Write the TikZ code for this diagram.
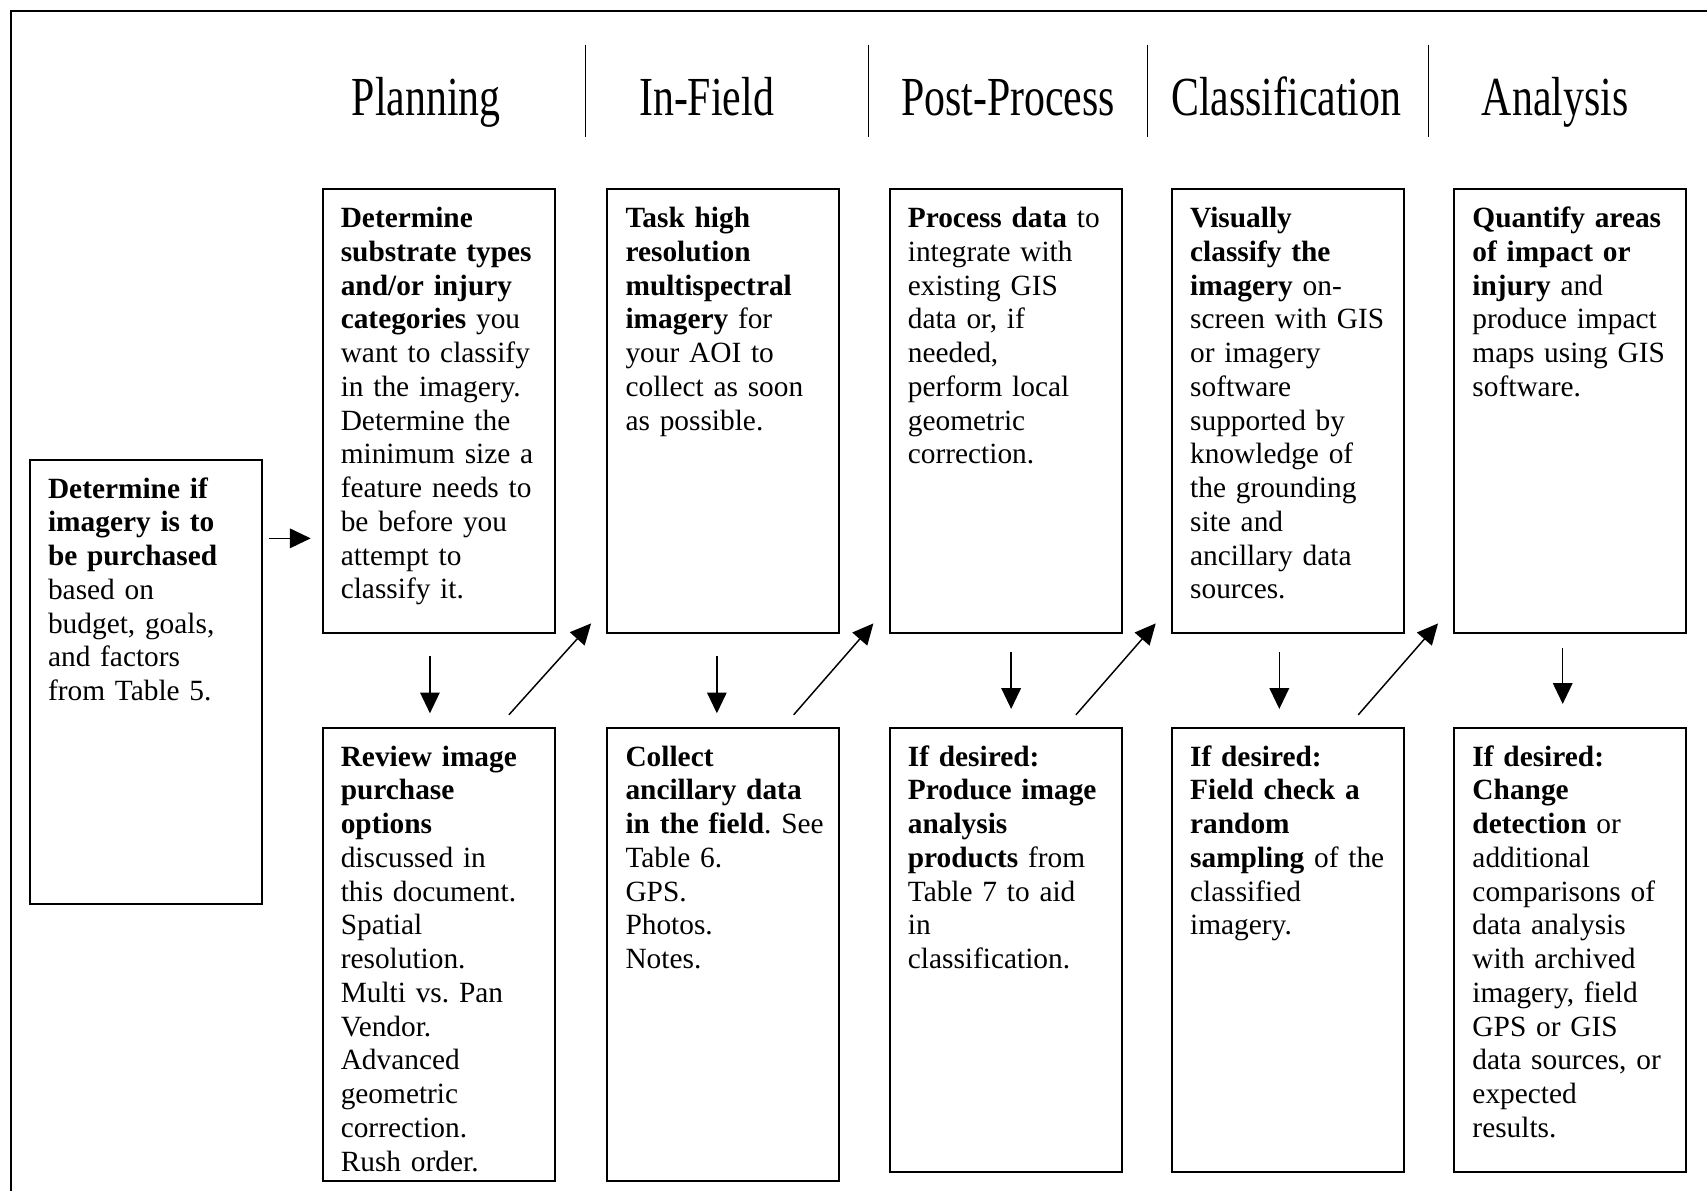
\documentclass[tikz,border=0pt]{standalone}
\usepackage{fontspec}
\setmainfont{Liberation Serif}
\usepackage{tikz}
\usetikzlibrary{arrows.meta,positioning,calc}
\frenchspacing
\newcommand\hdlabel[1]{\scalebox{0.76}[1]{#1}}
\tikzset{
  stage/.style ={rectangle, draw=black, line width=0.8pt, text width=80pt,
                 inner xsep=7.4pt, inner ysep=6.6pt, outer sep=0pt, text height=9pt,
                 text depth=159.2pt, align=left, font=\fontsize{12}{13.8}\selectfont},
  tall/.style  ={text depth=162.9pt},
  hd/.style    ={anchor=base, inner sep=0pt, font=\fontsize{22.5}{26}\selectfont},
  sep/.style   ={line width=0.5pt},
  frame/.style ={line width=0.9pt},
  ar/.style    ={-{Triangle[length=8.5pt,width=8pt]}, line width=0.6pt},
}

\begin{document}
\begin{tikzpicture}[x=0.445pt, y=0.445pt]
\useasboundingbox (0,0) rectangle (1568,-1094);
\draw[frame] (10,-1094) -- (10,-10) -- (1568,-10);

\node[hd] (hplan)  at (391.5,-106.5)  {\hdlabel{Planning}};
\node[hd] (hfield) at (649,-106.5)    {\hdlabel{In-Field}};
\node[hd] (hpost)  at (926,-106.5)    {\hdlabel{Post-Process}};
\node[hd] (hclass) at (1181.5,-106.5) {\hdlabel{Classification}};
\node[hd] (hanal)  at (1428.5,-106.5) {\hdlabel{Analysis}};
\foreach \x in {538,798,1054,1312} \draw[sep] (\x,-41) -- (\x,-125.5);

\node[stage, anchor=north west] (det) at (27.5,-422.5)
  {\textbf{Determine if\\ imagery is to\\ be purchased}\\ based on\\ budget, goals,\\
   and factors\\ from Table 5.};

\node[stage, anchor=north west] (t1) at (296.4,-174)
  {\textbf{Determine\\ substrate types\\ and/or injury\\ categories} you\\
   want to classify\\ in the imagery.\\ Determine the\\ minimum size a\\
   feature needs to\\ be before you\\ attempt to\\ classify it.};
\node[stage, right=21.6pt of t1] (t2)
  {\textbf{Task high\\ resolution\\ multispectral\\ imagery} for\\ your AOI to\\
   collect as soon\\ as possible.};
\node[stage, right=20.6pt of t2] (t3)
  {\textbf{Process data} to\\ integrate with\\ existing GIS\\ data or, if\\ needed,\\
   perform local\\ geometric\\ correction.};
\node[stage, right=20.6pt of t3] (t4)
  {\textbf{Visually\\ classify the\\ imagery} on-\\ screen with GIS\\ or imagery\\
   software\\ supported by\\ knowledge of\\ the grounding\\ site and\\
   ancillary data\\ sources.};
\node[stage, right=20.6pt of t4] (t5)
  {\textbf{Quantify areas\\ of impact or\\ injury} and\\ produce impact\\
   maps using GIS\\ software.};

\node[stage, tall, below=38.7pt of t1] (b1)
  {\textbf{Review image\\ purchase\\ options}\\ discussed in\\ this document.\\
   Spatial\\ resolution.\\ Multi vs. Pan\\ Vendor.\\ Advanced\\ geometric\\
   correction.\\ Rush order.};
\node[stage, tall, below=38.7pt of t2] (b2)
  {\textbf{Collect\\ ancillary data\\ in~the~field}.~See\\ Table 6.\\ GPS.\\
   Photos.\\ Notes.};
\node[stage, below=38.7pt of t3] (b3)
  {\textbf{If desired:\\ Produce image\\ analysis\\ products} from\\
   Table 7 to aid\\ in\\ classification.};
\node[stage, below=38.7pt of t4] (b4)
  {\textbf{If desired:\\ Field check a\\ random\\ sampling} of the\\ classified\\
   imagery.};
\node[stage, below=38.7pt of t5] (b5)
  {\textbf{If desired:\\ Change\\ detection} or\\ additional\\ comparisons of\\
   data analysis\\ with archived\\ imagery, field\\ GPS or GIS\\
   data sources, or\\ expected\\ results.};

\draw[ar] ($(det.north east)+(6.3,-72)$) -- ($(t1.north west)+(-11,-320.5)$);
\foreach \i/\dx/\ys/\ye in {1/-8/20.6/13.4, 2/-6/20.6/13.4, 3/5/17.6/17.4,
                            4/-8/17.6/17.4, 5/-7/13.6/22}
  \draw[ar] ($(t\i.south)+(\dx,-\ys)$) -- ($(b\i.north)+(\dx,\ye)$);
\foreach \i/\j in {1/2,2/3,3/4,4/5}
  \draw[ar] ($(b\i.north east)+(-42,12)$) -- ($(t\j.south west)+(-15,9)$);
\end{tikzpicture}
\end{document}
